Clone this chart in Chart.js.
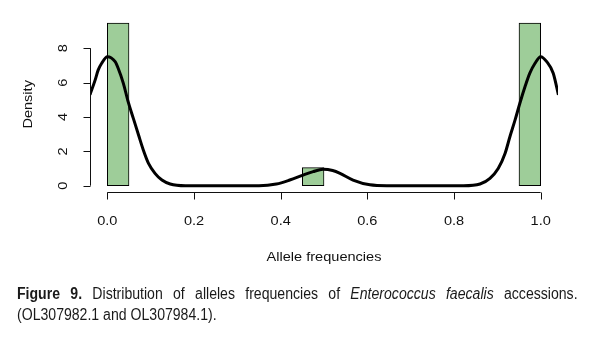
<!DOCTYPE html>
<html>
<head>
<meta charset="utf-8">
<script src="https://cdn.jsdelivr.net/npm/chart.js@4.4.1/dist/chart.umd.min.js"></script>
<style>
  html, body { margin: 0; padding: 0; background: #fff; }
  #wrap { position: relative; width: 593px; height: 338px; overflow: hidden; }
  #plot { position: absolute; left: 0; top: 0; }
  /* narrow caption face: regular sans squeezed horizontally */
  .caption {
    position: absolute; left: 17px; width: 637px;
    font-family: "Liberation Sans", Arial, sans-serif;
    font-size: 16px; line-height: 20px; color: #1a1a1a; white-space: nowrap;
    transform: scaleX(0.88); transform-origin: left top;
  }
  #cap1 { top: 284px; text-align: justify; text-align-last: justify; }
  #cap2 { top: 305px; }
</style>
</head>
<body>
<div id="wrap">
  <canvas id="plot" width="593" height="338"></canvas>
  <div class="caption" id="cap1"><b>Figure 9.</b> Distribution of alleles frequencies of <i>Enterococcus faecalis</i> accessions.</div>
  <div class="caption" id="cap2">(OL307982.1 and OL307984.1).</div>
</div>
<script>
// histogram bins (width 0.05), left edges and density heights
const binStarts = [0.00, 0.05, 0.10, 0.15, 0.20, 0.25, 0.30, 0.35, 0.40, 0.45,
                   0.50, 0.55, 0.60, 0.65, 0.70, 0.75, 0.80, 0.85, 0.90, 0.95];
const binDensity = [9.47, 0, 0, 0, 0, 0, 0, 0, 0, 1.05,
                    0, 0, 0, 0, 0, 0, 0, 0, 0, 9.47];
const binWidth = 0.05;

// kernel density curve
const densX = [-0.04, -0.028, -0.021, -0.013, 0.0, 0.018, 0.025, 0.037, 0.048, 0.06,
               0.072, 0.083, 0.095, 0.11, 0.126, 0.145, 0.18, 0.25, 0.35, 0.39,
               0.421, 0.452, 0.475, 0.498, 0.52, 0.537, 0.567, 0.606, 0.645, 0.75,
               0.822, 0.86, 0.883, 0.902, 0.918, 0.929, 0.941, 0.952, 0.964, 0.975,
               0.987, 1.0, 1.014, 1.029, 1.041];
const densY = [5.3, 6.16, 6.74, 7.13, 7.51, 7.22, 6.84, 5.96, 4.89, 3.92,
               2.95, 2.08, 1.3, 0.72, 0.33, 0.1, 0.0, 0.0, 0.0, 0.1,
               0.33, 0.62, 0.82, 0.95, 0.88, 0.72, 0.33, 0.05, 0.0, 0.0,
               0.0, 0.1, 0.43, 1.0, 1.89, 2.85, 3.83, 4.8, 5.77, 6.55,
               7.13, 7.51, 7.22, 6.55, 5.28];

const xTicks = [0, 0.2, 0.4, 0.6, 0.8, 1.0];
const yTicks = [0, 2, 4, 6, 8];
const xTitle = 'Allele frequencies';
const yTitle = 'Density';

const FONT = '13px "Liberation Sans", Arial, sans-serif';
const INK = '#111';
const STRETCH = 1.12;

// text drawn a little wider than the font's natural width
function wideText(ctx, text, x, y, angle) {
  ctx.save();
  ctx.translate(x, y);
  if (angle) ctx.rotate(angle);
  ctx.scale(STRETCH, 1);
  ctx.fillText(text, 0, 0);
  ctx.restore();
}

// R-style axes: lines only span the tick range, labels parallel to the axis
const baseAxes = {
  id: 'baseAxes',
  afterDraw(chart) {
    const ctx = chart.ctx;
    const xs = chart.scales.x, ys = chart.scales.y;
    const area = chart.chartArea;
    const yb = Math.round(area.bottom) + 0.5;
    const xl = Math.round(area.left) + 0.5;
    ctx.save();
    ctx.strokeStyle = INK;
    ctx.fillStyle = INK;
    ctx.lineWidth = 1;
    ctx.font = FONT;
    ctx.textAlign = 'center';
    ctx.textBaseline = 'middle';

    // x axis
    ctx.beginPath();
    ctx.moveTo(xs.getPixelForValue(xTicks[0]), yb);
    ctx.lineTo(xs.getPixelForValue(xTicks[xTicks.length - 1]), yb);
    xTicks.forEach(v => {
      const px = Math.round(xs.getPixelForValue(v)) + 0.5;
      ctx.moveTo(px, yb);
      ctx.lineTo(px, yb + 7);
    });
    ctx.stroke();
    xTicks.forEach(v => wideText(ctx, v.toFixed(1), xs.getPixelForValue(v), yb + 29));
    wideText(ctx, xTitle, (area.left + area.right) / 2, yb + 65);

    // y axis
    ctx.beginPath();
    ctx.moveTo(xl, ys.getPixelForValue(yTicks[0]));
    ctx.lineTo(xl, ys.getPixelForValue(yTicks[yTicks.length - 1]));
    yTicks.forEach(v => {
      const py = Math.round(ys.getPixelForValue(v)) + 0.5;
      ctx.moveTo(xl, py);
      ctx.lineTo(xl - 7, py);
    });
    ctx.stroke();
    yTicks.forEach(v => wideText(ctx, String(v), xl - 27, ys.getPixelForValue(v), -Math.PI / 2));
    wideText(ctx, yTitle, xl - 62, (area.top + area.bottom) / 2, -Math.PI / 2);

    ctx.restore();
  }
};

const yTop = Math.max(...binDensity);

new Chart(document.getElementById('plot'), {
  type: 'bar',
  data: {
    datasets: [
      {
        type: 'line',
        label: 'density',
        data: densX.map((x, i) => ({ x: x, y: densY[i] })),
        borderColor: '#000',
        borderWidth: 3,
        pointRadius: 0,
        cubicInterpolationMode: 'monotone',
        fill: false,
        order: 0
      },
      {
        label: 'histogram',
        data: binStarts.map((s, i) => ({ x: s + binWidth / 2, y: binDensity[i] })),
        backgroundColor: 'rgb(158, 205, 153)',
        borderColor: '#000',
        borderWidth: 1,
        borderSkipped: false,
        barPercentage: 1,
        categoryPercentage: 1,
        order: 1
      }
    ]
  },
  options: {
    responsive: false,
    animation: false,
    devicePixelRatio: 1,
    layout: { padding: { left: 90, right: 35, top: 16.5, bottom: 145.8 } },
    plugins: { legend: { display: false }, tooltip: { enabled: false } },
    scales: {
      x: { type: 'linear', min: -0.04, max: 1.04, offset: false, display: false },
      y: { type: 'linear', min: -0.04 * yTop, max: 1.04 * yTop, display: false }
    }
  },
  plugins: [baseAxes]
});
</script>
</body>
</html>
